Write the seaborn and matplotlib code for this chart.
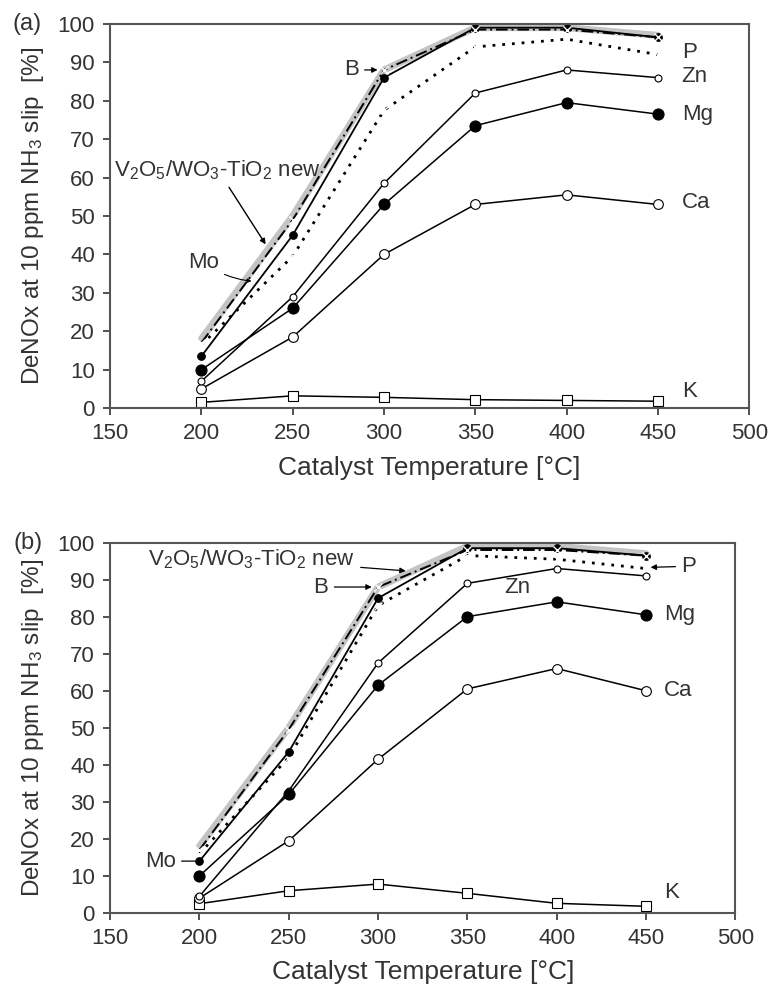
import matplotlib
matplotlib.use("Agg")
import matplotlib.pyplot as plt
import numpy as np
import pandas as pd
import seaborn as sns

# --- data ---
temps = [200, 250, 300, 350, 400, 450]

# panel (a)
a_new = [18, 50, 88, 99, 99, 97]
a_b = [17, 49, 88, 98.5, 98.5, 96.5]
a_mo = [13.5, 45, 86, 99, 99, 96.5]
a_p = [16.5, 39.5, 77.5, 94, 96, 92]
a_zn = [7, 29, 58.5, 82, 88, 86]
a_mg = [10, 26, 53, 73.5, 79.5, 76.5]
a_ca = [5, 18.5, 40, 53, 55.5, 53]
a_k = [1.5, 3.2, 2.8, 2.2, 2.0, 1.8]

# panel (b)
b_new = [18, 50, 88, 99, 99, 97]
b_b = [17, 49.5, 88, 98, 98, 96.5]
b_mo = [14, 43.5, 85, 98.5, 98.5, 96.5]
b_p = [16, 42, 83, 96.5, 95.5, 93]
b_zn = [4.5, 33, 67.5, 89, 93, 91]
b_mg = [10, 32, 61.5, 80, 84, 80.5]
b_ca = [4, 19.5, 41.5, 60.5, 66, 60]
b_k = [2.5, 6, 7.8, 5.3, 2.6, 1.8]

x_ticks = [150, 200, 250, 300, 350, 400, 450, 500]
y_ticks = [0, 10, 20, 30, 40, 50, 60, 70, 80, 90, 100]

sns.set_style("ticks")
plt.rcParams['font.family'] = ['Liberation Sans', 'DejaVu Sans']
plt.rcParams['mathtext.fontset'] = 'custom'
plt.rcParams['mathtext.rm'] = 'Liberation Sans'
plt.rcParams['mathtext.it'] = 'Liberation Sans'

# line styles per series
styles = {
    "new": dict(color="#c4c4c4", linewidth=5, linestyle="-", marker=None),
    "B": dict(color="black", linewidth=1.4, linestyle=(0, (6, 2, 1, 2)), marker="x",
              markersize=6, markeredgewidth=1.0),
    "Mo": dict(color="black", linewidth=1.3, linestyle="-", marker="o", markersize=5.5,
               markerfacecolor="black", markeredgecolor="black"),
    "P": dict(color="black", linewidth=2.0, linestyle=(0, (1, 2.5)), marker="x",
              markersize=6, markeredgewidth=1.0),
    "Zn": dict(color="black", linewidth=1.1, linestyle="-", marker="o", markersize=5,
               markerfacecolor="white", markeredgecolor="black", markeredgewidth=0.8),
    "Mg": dict(color="black", linewidth=1.1, linestyle="-", marker="o", markersize=8,
               markerfacecolor="black", markeredgecolor="black"),
    "Ca": dict(color="black", linewidth=1.1, linestyle="-", marker="o", markersize=7,
               markerfacecolor="white", markeredgecolor="black", markeredgewidth=0.8),
    "K": dict(color="black", linewidth=1.1, linestyle="-", marker="s", markersize=7,
              markerfacecolor="white", markeredgecolor="black", markeredgewidth=0.8),
}

fig = plt.figure(figsize=(7.7, 9.93), dpi=100)
ax_a = fig.add_axes([0.143, 0.589, 0.830, 0.387])
ax_b = fig.add_axes([0.143, 0.0806, 0.812, 0.373])

panels = [
    (ax_a, {"new": a_new, "B": a_b, "Mo": a_mo, "P": a_p, "Zn": a_zn,
            "Mg": a_mg, "Ca": a_ca, "K": a_k}),
    (ax_b, {"new": b_new, "B": b_b, "Mo": b_mo, "P": b_p, "Zn": b_zn,
            "Mg": b_mg, "Ca": b_ca, "K": b_k}),
]

for ax, series in panels:
    for name in ["new", "K", "Ca", "Zn", "Mg", "P", "Mo", "B"]:
        df = pd.DataFrame({"T": temps, "DeNOx": series[name]})
        sns.lineplot(data=df, x="T", y="DeNOx", ax=ax, legend=False, **styles[name])
    ax.set_xlim(150, 500)
    ax.set_ylim(0, 100)
    ax.set_xticks(x_ticks)
    ax.set_yticks(y_ticks)
    ax.tick_params(labelsize=16, direction="out", length=5, width=1.2, pad=6,
                   colors="#333333", labelcolor="#333333")
    for sp in ax.spines.values():
        sp.set_visible(True)
        sp.set_linewidth(1.5)
        sp.set_color("#555555")
    ax.set_xlabel("Catalyst Temperature [°C]", fontsize=19, color="#333333", labelpad=8)
    ax.set_ylabel("DeNOx at 10 ppm NH$_3$ slip  [%]", fontsize=17.5, color="#333333",
                  labelpad=8)

txt = dict(fontsize=16, color="#333333")
arrow = dict(arrowstyle="-|>", color="black", lw=0.9, mutation_scale=8)

# annotations panel (a)
ax_a.text(-0.152, 1.0, "(a)", transform=ax_a.transAxes, fontsize=17, color="#333333",
          va="center", ha="left")
ax_a.annotate("B", xy=(298, 88), xytext=(282, 88), va="center", ha="center",
              arrowprops=arrow, **txt)
ax_a.annotate("V$_2$O$_5$/WO$_3$-TiO$_2$ new", xy=(236, 42), xytext=(209, 62),
              va="center", ha="center", arrowprops=dict(arrow, lw=1.0), **txt)
ax_a.annotate("Mo", xy=(229, 33), xytext=(201, 38), va="center", ha="center",
              arrowprops=dict(arrowstyle="-|>", color="black", lw=0.8, mutation_scale=6,
                              connectionstyle="arc3,rad=0.15"), **txt)
ax_a.text(463, 92.5, "P", va="center", ha="left", **txt)
ax_a.text(463, 86.3, "Zn", va="center", ha="left", **txt)
ax_a.text(463, 76.5, "Mg", va="center", ha="left", **txt)
ax_a.text(463, 53.5, "Ca", va="center", ha="left", **txt)
ax_a.text(463, 4.3, "K", va="center", ha="left", **txt)

# annotations panel (b)
ax_b.text(-0.155, 1.0, "(b)", transform=ax_b.transAxes, fontsize=17, color="#333333",
          va="center", ha="left")
ax_b.annotate("V$_2$O$_5$/WO$_3$-TiO$_2$ new", xy=(317, 92.3), xytext=(229, 95.6),
              va="center", ha="center", arrowprops=arrow, **txt)
ax_b.annotate("B", xy=(298, 88), xytext=(268, 88), va="center", ha="center",
              arrowprops=arrow, **txt)
ax_b.annotate("P", xy=(451, 93.3), xytext=(474, 93.6), va="center", ha="center",
              arrowprops=arrow, **txt)
ax_b.annotate("Mo", xy=(199, 14), xytext=(178, 14), va="center", ha="center",
              arrowprops=dict(arrowstyle="-", color="black", lw=0.9), **txt)
ax_b.text(378, 88, "Zn", va="center", ha="center", **txt)
ax_b.text(460, 80.5, "Mg", va="center", ha="left", **txt)
ax_b.text(460, 60, "Ca", va="center", ha="left", **txt)
ax_b.text(460, 5.4, "K", va="center", ha="left", **txt)

fig.savefig("out.png", dpi=100)
